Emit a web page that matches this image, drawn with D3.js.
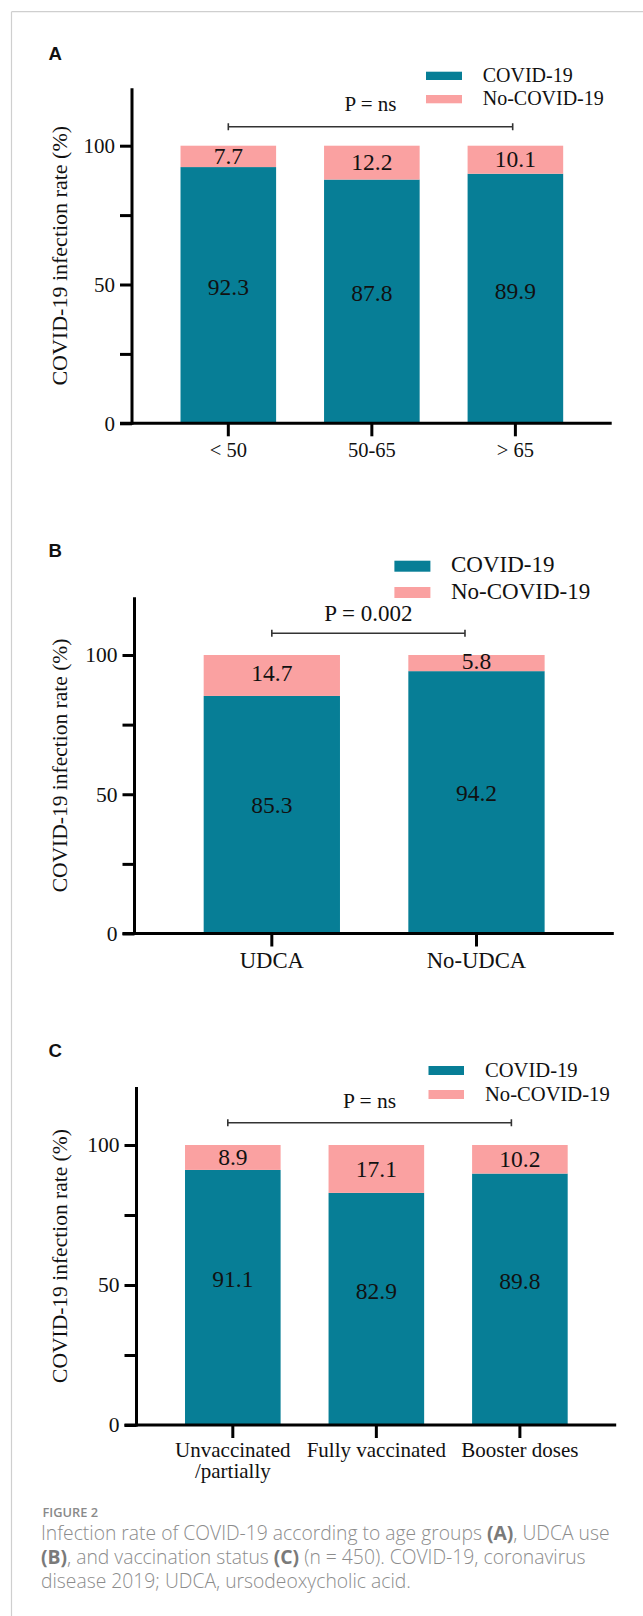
<!DOCTYPE html>
<html>
<head>
<meta charset="utf-8">
<script src="https://cdn.jsdelivr.net/npm/d3@7"></script>
<style>
  html, body { margin: 0; padding: 0; background: #ffffff; }
  svg { display: block; }
</style>
</head>
<body>
<script>
// ---------------- DATA ----------------
const seriesNames = ["COVID-19", "No-COVID-19"];

const ageCategories = ["< 50", "50-65", "> 65"];
const ageCovid = [92.3, 87.8, 89.9];
const ageNoCovid = [7.7, 12.2, 10.1];

const udcaCategories = ["UDCA", "No-UDCA"];
const udcaCovid = [85.3, 94.2];
const udcaNoCovid = [14.7, 5.8];

const vaccCategories = ["Unvaccinated\n/partially", "Fully vaccinated", "Booster doses"];
const vaccCovid = [91.1, 82.9, 89.8];
const vaccNoCovid = [8.9, 17.1, 10.2];

const pValueLabels = ["P = ns", "P = 0.002", "P = ns"];
const panelLetters = ["A", "B", "C"];
const yTickValues = [0, 25, 50, 75, 100];
const yTickLabels = ["0", "", "50", "", "100"];
const yAxisTitle = "COVID-19 infection rate (%)";
const yAxisMax = 120.7;

const captionTitle = "FIGURE 2";
const captionLines = [
  [["Infection rate of COVID-19 according to age groups ", false], ["(A)", true], [", UDCA use", false]],
  [["(B)", true], [", and vaccination status ", false], ["(C)", true], [" (n = 450). COVID-19, coronavirus", false]],
  [["disease 2019; UDCA, ursodeoxycholic acid.", false]]
];

// ---------------- STYLE / LAYOUT ----------------
const W = 643, H = 1616;
const teal = "#077e96";
const pink = "#faa1a1";
const serif = "'Liberation Serif', 'Times New Roman', serif";

const panels = [
  { cats: ageCategories, covid: ageCovid, no: ageNoCovid,
    letterY: 60, axisX: 132, axisRight: 611.7, y0: 423.3, y100: 145.7,
    legX: 426, legY: [71.7, 95], swW: 36, swH: 8.3, legTextX: 482.7, legFont: 20,
    barFont: 23.5, tickFont: 21, xFont: 20.5, xLabelDy: 33.7,
    pFont: 21, bracketY: 126.7, bracketDx: [0, -2.7], pDy: -15.7,
    tealDy: 0, pinkDy: 7.5, ylabFont: 22 },
  { cats: udcaCategories, covid: udcaCovid, no: udcaNoCovid,
    letterY: 557.3, axisX: 134.5, axisRight: 613.8, y0: 933.5, y100: 655,
    legX: 394.4, legY: [560.7, 587], swW: 36, swH: 11, legTextX: 451, legFont: 23,
    barFont: 23.5, tickFont: 21.5, xFont: 22.7, xLabelDy: 34.8,
    pFont: 23, bracketY: 633.3, bracketDx: [0, -11.5], pDy: -12.6,
    tealDy: -1.5, pinkDy: 6, ylabFont: 21.5 },
  { cats: vaccCategories, covid: vaccCovid, no: vaccNoCovid,
    letterY: 1057.3, axisX: 136.5, axisRight: 616.2, y0: 1425, y100: 1145,
    legX: 428.5, legY: [1066, 1090], swW: 35.5, swH: 9, legTextX: 485, legFont: 20.6,
    barFont: 23.5, tickFont: 21.5, xFont: 21, xLabelDy: 32.3,
    pFont: 21.5, bracketY: 1122.7, bracketDx: [-5, -8.5], pDy: -14.4,
    tealDy: -10, pinkDy: 8, ylabFont: 21.5 }
];

const svg = d3.select("body").append("svg")
  .attr("width", W).attr("height", H)
  .attr("viewBox", `0 0 ${W} ${H}`);

svg.append("rect").attr("width", W).attr("height", H).attr("fill", "#fff");

// card frame (top + left edges)
svg.append("line").attr("x1", 11.5).attr("x2", W).attr("y1", 11.7).attr("y2", 11.7)
  .attr("stroke", "#cfcfcf").attr("stroke-width", 1.2);
svg.append("line").attr("x1", 11.5).attr("x2", 11.5).attr("y1", 11.7).attr("y2", H)
  .attr("stroke", "#cfcfcf").attr("stroke-width", 1.2);

panels.forEach((cfg, pi) => {
  const g = svg.append("g");
  const rows = cfg.cats.map((c, i) => ({ cat: c, covid: cfg.covid[i], no: cfg.no[i] }));
  const stacked = d3.stack().keys(["covid", "no"])(rows);

  const unit = (cfg.y0 - cfg.y100) / 100;
  const y = d3.scaleLinear().domain([0, yAxisMax]).range([cfg.y0, cfg.y0 - unit * yAxisMax]);
  const x = d3.scaleBand().domain(cfg.cats).range([cfg.axisX, cfg.axisRight])
    .paddingInner(0.334).paddingOuter(0.338);

  // panel letter
  g.append("text").attr("x", 48.5).attr("y", cfg.letterY)
    .attr("font-family", "'Liberation Sans', Arial, sans-serif").attr("font-weight", "bold")
    .attr("font-size", 18.6).attr("fill", "#111").text(panelLetters[pi]);

  // bars
  const colors = [teal, pink];
  stacked.forEach((layer, li) => {
    g.append("g").selectAll("rect").data(layer).join("rect")
      .attr("x", d => x(d.data.cat))
      .attr("width", x.bandwidth())
      .attr("y", d => y(d[1]))
      .attr("height", d => y(d[0]) - y(d[1]))
      .attr("fill", colors[li]);
  });

  // value labels
  stacked.forEach((layer, li) => {
    const key = layer.key;
    const dy = li === 0 ? cfg.tealDy : cfg.pinkDy;
    g.append("g").selectAll("text").data(layer).join("text")
      .attr("x", d => x(d.data.cat) + x.bandwidth() / 2)
      .attr("y", d => y((d[0] + d[1]) / 2) + dy)
      .attr("text-anchor", "middle")
      .attr("font-family", serif).attr("font-size", cfg.barFont).attr("fill", "#111")
      .text(d => d.data[key].toFixed(1));
  });

  // y axis
  const yAxis = d3.axisLeft(y).tickValues(yTickValues).tickSize(12).tickSizeOuter(0).tickPadding(5)
    .tickFormat((d, i) => yTickLabels[i]);
  const yg = g.append("g").attr("transform", `translate(${cfg.axisX},0)`).call(yAxis);
  yg.select(".domain").attr("stroke", "#000").attr("stroke-width", 3)
    .attr("d", `M0,${cfg.y0 + 1.5}V${y(yAxisMax)}`);
  yg.selectAll(".tick line").attr("stroke", "#000").attr("stroke-width", 3);
  yg.selectAll(".tick text").attr("font-family", serif).attr("font-size", cfg.tickFont).attr("fill", "#111");

  // x axis
  const xAxis = d3.axisBottom(x).tickSize(13).tickSizeOuter(0).tickFormat("");
  const xg = g.append("g").attr("transform", `translate(0,${cfg.y0})`).call(xAxis);
  xg.select(".domain").attr("stroke", "#000").attr("stroke-width", 3)
    .attr("d", `M${cfg.axisX - 12},0H${cfg.axisRight}`);
  xg.selectAll(".tick line").attr("stroke", "#000").attr("stroke-width", 3);

  // x labels
  const xl = g.append("g").selectAll("text").data(cfg.cats).join("text")
    .attr("text-anchor", "middle")
    .attr("font-family", serif).attr("font-size", cfg.xFont).attr("fill", "#111");
  xl.each(function (d) {
    const parts = d.split("\n");
    const t = d3.select(this);
    parts.forEach((p, k) => {
      t.append("tspan").attr("x", x(d) + x.bandwidth() / 2)
        .attr("y", cfg.y0 + cfg.xLabelDy + k * 21).text(p);
    });
  });

  // y axis title
  g.append("text")
    .attr("transform", `translate(67,${(cfg.y0 + y(yAxisMax)) / 2}) rotate(-90)`)
    .attr("text-anchor", "middle")
    .attr("font-family", serif).attr("font-size", cfg.ylabFont).attr("fill", "#111")
    .text(yAxisTitle);

  // significance bracket
  const first = cfg.cats[0], last = cfg.cats[cfg.cats.length - 1];
  const bx1 = x(first) + x.bandwidth() / 2 + cfg.bracketDx[0];
  const bx2 = x(last) + x.bandwidth() / 2 + cfg.bracketDx[1];
  const by = cfg.bracketY;
  g.append("path")
    .attr("d", `M${bx1},${by - 3.5}V${by + 3.5}M${bx1},${by}H${bx2}M${bx2},${by - 3.5}V${by + 3.5}`)
    .attr("stroke", "#333").attr("stroke-width", 1.6).attr("fill", "none");
  g.append("text").attr("x", (bx1 + bx2) / 2).attr("y", by + cfg.pDy)
    .attr("text-anchor", "middle")
    .attr("font-family", serif).attr("font-size", cfg.pFont).attr("fill", "#111")
    .text(pValueLabels[pi]);

  // legend
  seriesNames.forEach((name, k) => {
    g.append("rect").attr("x", cfg.legX).attr("y", cfg.legY[k])
      .attr("width", cfg.swW).attr("height", cfg.swH).attr("fill", colors[k]);
    g.append("text").attr("x", cfg.legTextX).attr("y", cfg.legY[k] + cfg.swH / 2 + 6)
      .attr("font-family", serif).attr("font-size", cfg.legFont).attr("fill", "#111")
      .text(name);
  });
});

// caption
const capFont = "'Open Sans', 'Noto Sans', sans-serif";
svg.append("text").attr("x", 42.5).attr("y", 1517.3)
  .attr("font-family", capFont).attr("font-weight", 600).attr("font-size", 12.8)
  .attr("fill", "#8a8a8a").text(captionTitle);

const capBaselines = [1540, 1564, 1588];
const capSize = 16.5;
const capNodes = captionLines.map((line, i) => {
  const t = svg.append("text").attr("x", 41).attr("y", capBaselines[i])
    .attr("font-family", capFont).attr("font-size", capSize).attr("font-weight", 300)
    .attr("fill", "#8c8c8c");
  line.forEach(([s, bold]) => {
    t.append("tspan").attr("font-weight", bold ? 700 : 300)
      .attr("fill", bold ? "#7a7a7a" : "#8c8c8c").text(s);
  });
  return t;
});
// fit the caption width so the first line spans to x≈610
const w0 = capNodes[0].node().getComputedTextLength();
if (w0 > 0) {
  const fs = capSize * 569 / w0;
  capNodes.forEach(t => t.attr("font-size", fs));
}
</script>
</body>
</html>
